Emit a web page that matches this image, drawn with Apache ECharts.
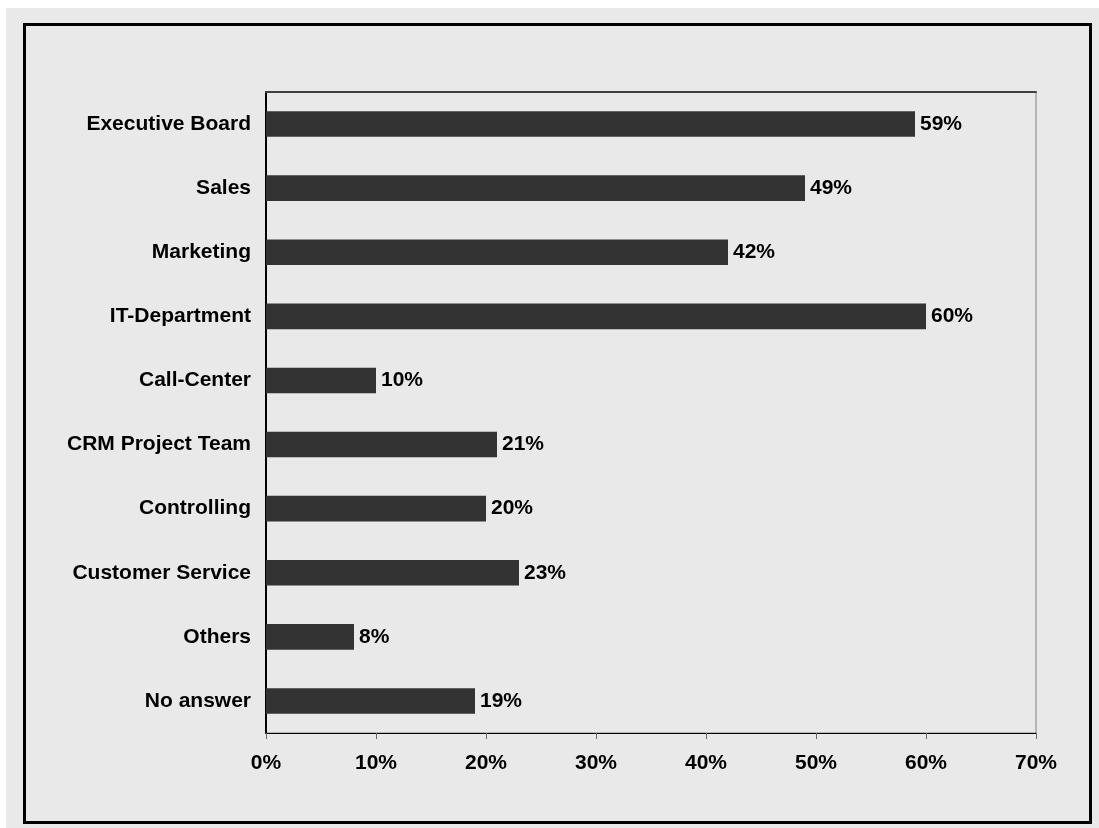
<!DOCTYPE html>
<html>
<head>
<meta charset="utf-8">
<script src="https://cdn.jsdelivr.net/npm/echarts@6/dist/echarts.min.js"></script>
<style>
  html, body { margin: 0; padding: 0; background: #ffffff; }
  #chart { width: 1099px; height: 828px; }
</style>
</head>
<body>
<div id="chart"></div>
<script>
// Departments involved, top to bottom
const categories = [
  'Executive Board', 'Sales', 'Marketing', 'IT-Department', 'Call-Center',
  'CRM Project Team', 'Controlling', 'Customer Service', 'Others', 'No answer'
];
// Share of responses per department, in percent
const shares = [59, 49, 42, 60, 10, 21, 20, 23, 8, 19];
// Value axis range and step, in percent
const axisMin = 0;
const axisMax = 70;
const axisStep = 10;

const FONT = '"Liberation Sans", Arial, sans-serif';
const chart = echarts.init(document.getElementById('chart'), null, { renderer: 'canvas' });

chart.setOption({
  backgroundColor: '#ffffff',
  animation: false,
  graphic: [
    // light gray page area with the black frame around the chart
    { type: 'rect', left: 6, top: 8, shape: { width: 1093, height: 820 },
      style: { fill: '#e9e9e9' }, z: -10 },
    { type: 'rect', left: 22, top: 22, shape: { width: 1066, height: 798 },
      style: { fill: 'none', stroke: '#000000', lineWidth: 3 }, z: -5 }
  ],
  grid: {
    left: 266, right: 63, top: 92, bottom: 95,
    show: true, backgroundColor: 'transparent',
    borderColor: '#808080', borderWidth: 1
  },
  xAxis: [
    {
      type: 'value', position: 'bottom',
      min: axisMin, max: axisMax, interval: axisStep,
      axisLine: { show: true, lineStyle: { color: '#000000', width: 1 } },
      axisTick: { show: true, length: 6, lineStyle: { color: '#666666' } },
      splitLine: { show: false },
      axisLabel: {
        margin: 20, color: '#000000', fontFamily: FONT, fontWeight: 'bold', fontSize: 21,
        formatter: v => v + '%'
      }
    },
    {
      type: 'value', position: 'top',
      min: axisMin, max: axisMax, interval: axisStep,
      axisLine: { show: true, lineStyle: { color: '#404040', width: 2 } },
      axisTick: { show: false }, axisLabel: { show: false }, splitLine: { show: false }
    }
  ],
  yAxis: {
    type: 'category', data: categories, inverse: true,
    axisLine: { show: true, lineStyle: { color: '#000000', width: 2 } },
    axisTick: { show: false },
    axisLabel: {
      margin: 15, color: '#000000', fontFamily: FONT, fontWeight: 'bold', fontSize: 21
    }
  },
  series: [{
    type: 'bar',
    data: shares,
    barWidth: '40%',
    itemStyle: { color: '#333333' },
    label: {
      show: true, position: 'right', distance: 5,
      color: '#000000', fontFamily: FONT, fontWeight: 'bold', fontSize: 21,
      formatter: p => p.value + '%'
    }
  }]
});
</script>
</body>
</html>
